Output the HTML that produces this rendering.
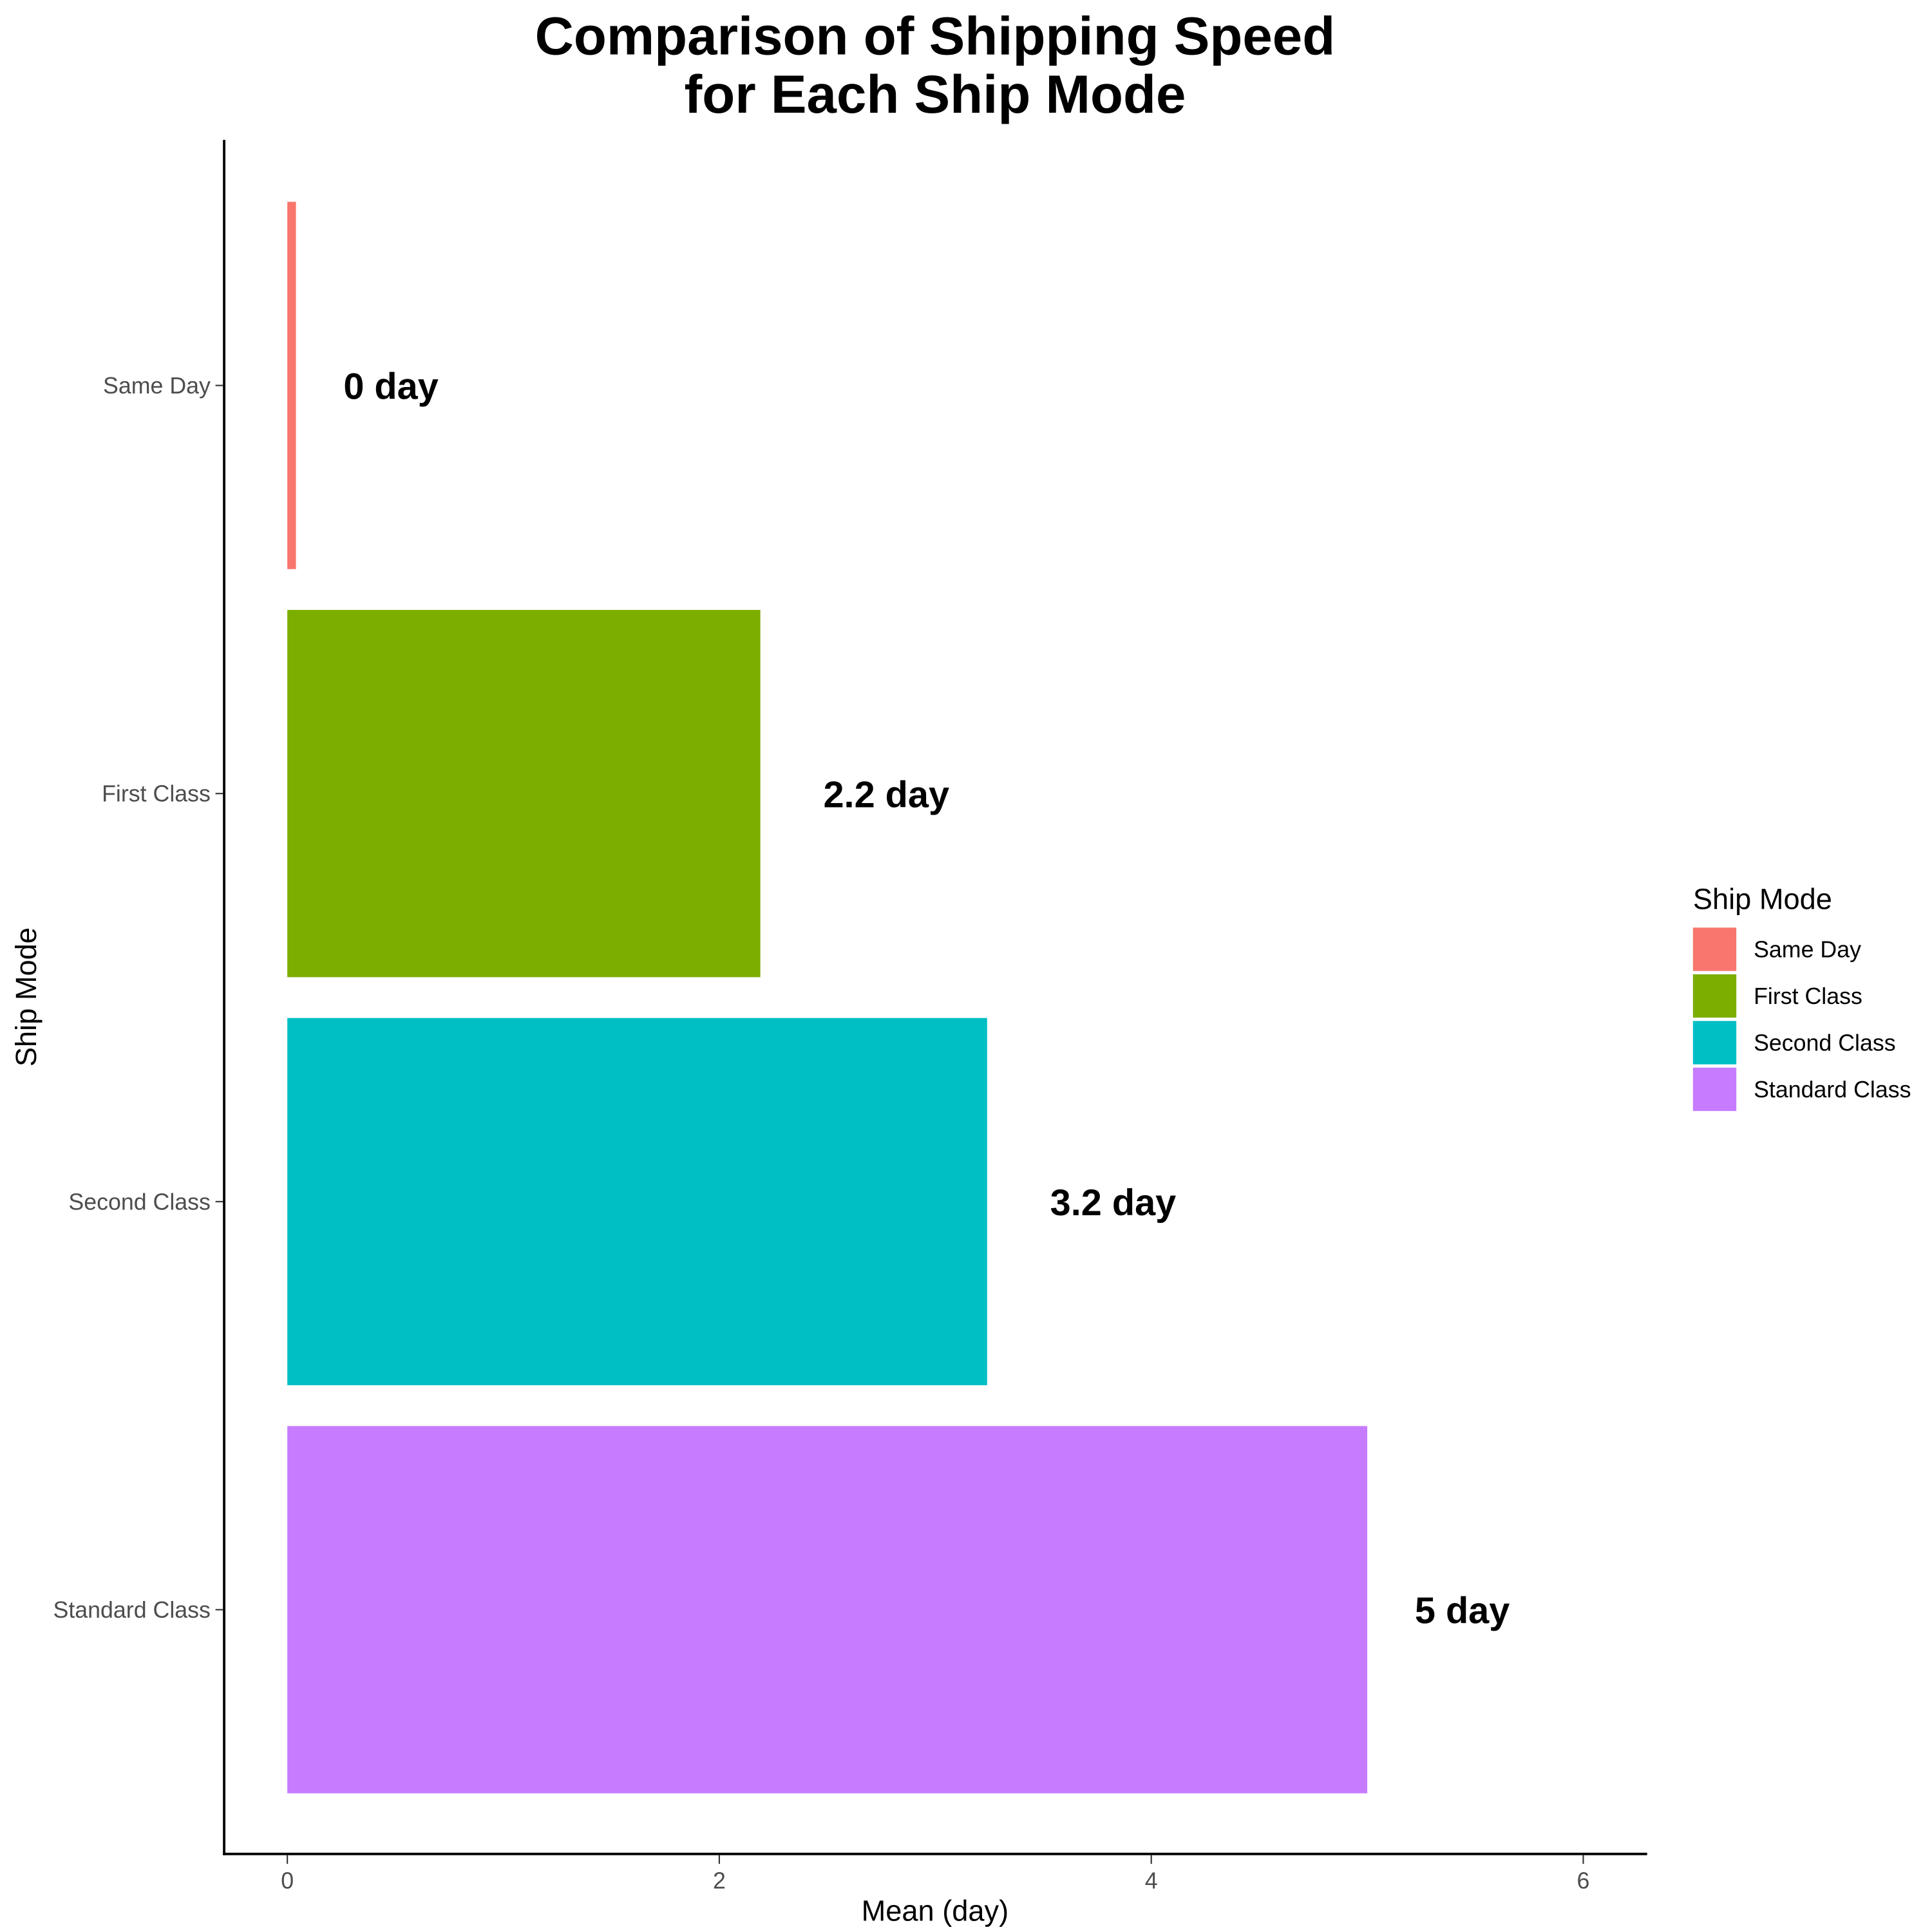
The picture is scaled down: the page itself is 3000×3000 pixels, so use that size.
<!DOCTYPE html>
<html><head><meta charset="utf-8"><style>
html,body{margin:0;padding:0;background:#fff;}
svg{display:block;font-family:"Liberation Sans",Arial,sans-serif;}
</style></head><body>
<svg id="chart" width="3000" height="3000" viewBox="0 0 1560 1560" xmlns="http://www.w3.org/2000/svg">
<rect width="1560" height="1560" fill="#fff"/>
<text x="755" y="44" text-anchor="middle" font-size="43.4" font-weight="bold">Comparison of Shipping Speed</text>
<text x="755" y="91" text-anchor="middle" font-size="43.4" font-weight="bold">for Each Ship Mode</text>
<g id="plot"></g>
<line x1="181" y1="113" x2="181" y2="1498" stroke="#000" stroke-width="2"/>
<line x1="180" y1="1497" x2="1330" y2="1497" stroke="#000" stroke-width="2"/>
<text x="755" y="1551" text-anchor="middle" font-size="23.5">Mean (day)</text>
<text transform="translate(29,805) rotate(-90)" text-anchor="middle" font-size="23.5">Ship Mode</text>
<g id="legend">
<text x="1367" y="734" font-size="23.5">Ship Mode</text>
</g>
</svg>
<script>
const categories = ["Same Day", "First Class", "Second Class", "Standard Class"];
const meanDays = [0.04, 2.19, 3.24, 5.0];
const valueLabels = ["0 day", "2.2 day", "3.2 day", "5 day"];
const xTicks = [0, 2, 4, 6];
const colors = ["#F8766D", "#7CAE00", "#00BFC4", "#C77CFF"];

const NS = "http://www.w3.org/2000/svg";
const plot = document.getElementById("plot");
const legend = document.getElementById("legend");
const x = v => 232 + v * 174.4;
const step = 329.5, top0 = 146.5;
const yCenter = i => top0 + step * (i + 0.5);
const barH = step * 0.9;
function mk(tag, attrs, parent) {
  const e = document.createElementNS(NS, tag);
  for (const k in attrs) e.setAttribute(k, attrs[k]);
  parent.appendChild(e);
  return e;
}
xTicks.forEach(t => {
  const tk = mk("line", {x1: x(t), x2: x(t), y1: 1498, y2: 1505, stroke: "#333", "stroke-width": 1.1}, plot);
  
  
  const lb = mk("text", {x: x(t), y: 1525, "text-anchor": "middle", "font-size": 18.6, fill: "#4d4d4d"}, plot);
  lb.textContent = t;
  
  
});
categories.forEach((c, i) => {
  const cy = yCenter(i);
  const tk = mk("line", {x1: 174, x2: 181, y1: cy, y2: cy, stroke: "#333", "stroke-width": 1.1}, plot);
  
  
  const lb = mk("text", {x: 170, y: cy + 6.5, "text-anchor": "end", "font-size": 18.6, fill: "#4d4d4d"}, plot);
  lb.textContent = c;
  
  
  const bar = mk("rect", {x: x(0), y: cy - barH / 2, width: x(meanDays[i]) - x(0), height: barH, fill: colors[i]}, plot);
  
  
  const vl = mk("text", {x: x(meanDays[i]), y: cy + 11, "font-size": 30, "font-weight": "bold"}, plot);
  vl.textContent = valueLabels[i];
  
  
  const w = vl.getComputedTextLength();
  vl.setAttribute("x", x(meanDays[i]) + 0.5 * w);
  const key = mk("rect", {x: 1367, y: 749 + i * 37.7, width: 35, height: 35, fill: colors[i]}, legend);
  
  
  const lt = mk("text", {x: 1416, y: 773 + i * 37.7, "font-size": 18.6}, legend);
  lt.textContent = c;
  
  
});
</script>
</body></html>
